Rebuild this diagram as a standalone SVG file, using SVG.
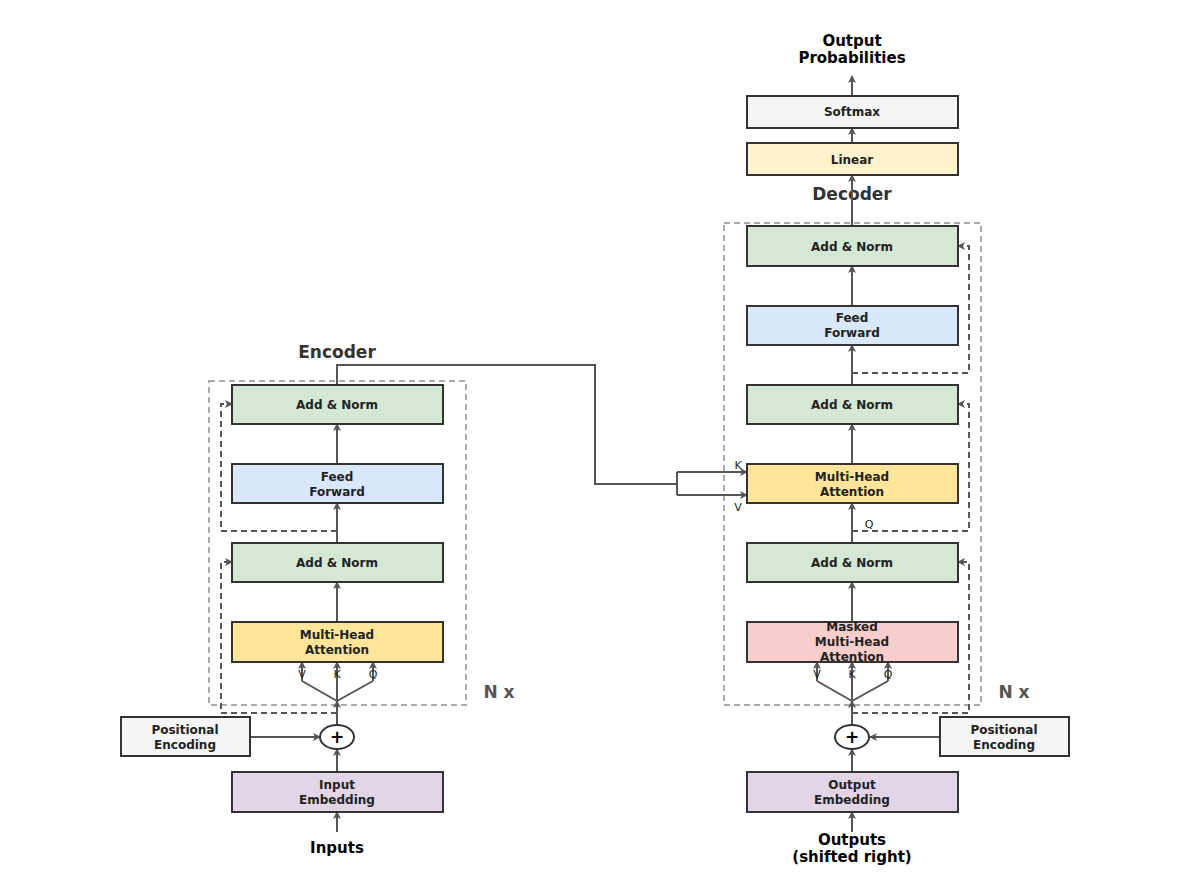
<svg xmlns="http://www.w3.org/2000/svg" width="1189" height="889" viewBox="0 0 1189 889">
<style>
.b{stroke:#333;stroke-width:2}
.t{font-family:"DejaVu Sans",sans-serif;font-size:12px;font-weight:bold;fill:#222;text-anchor:middle}
.s{font-family:"DejaVu Sans",sans-serif;font-size:11px;fill:#222;text-anchor:middle}
.h{font-family:"DejaVu Sans",sans-serif;font-size:17px;font-weight:bold;fill:#333;text-anchor:middle}
.l{font-family:"DejaVu Sans",sans-serif;font-size:15px;font-weight:bold;fill:#000;text-anchor:middle}
.c{fill:none;stroke:#555;stroke-width:2}
.d{fill:none;stroke:#555;stroke-width:2;stroke-dasharray:6,4}
.g{fill:none;stroke:#aaa;stroke-width:2;stroke-dasharray:6,4}
.an{fill:#d5e8d4}.ff{fill:#dae8fc}.mh{fill:#ffe599}.em{fill:#e1d5e7}.pe{fill:#f5f5f5}.ms{fill:#f8cecc}.ln{fill:#fff2cc}
</style>
<defs><marker id="a" markerWidth="8" markerHeight="8" refX="7" refY="4" orient="auto" markerUnits="userSpaceOnUse"><path d="M0,0L8,4L0,8L2,4Z" fill="#555"/></marker></defs>
<rect class="g" x="209" y="381" width="257" height="324"/>
<rect class="g" x="724" y="223" width="257" height="482"/>
<text class="h" x="337" y="358">Encoder</text>
<text class="h" x="852" y="200">Decoder</text>
<text class="h" x="499" y="698" fill="#555" style="fill:#555">N x</text>
<text class="h" x="1014" y="698" style="fill:#555">N x</text>
<text class="l" x="852" y="46">Output</text><text class="l" x="852" y="63">Probabilities</text>
<text class="l" x="337" y="853">Inputs</text>
<text class="l" x="852" y="845">Outputs</text><text class="l" x="852" y="862">(shifted right)</text>
<g id="connectors">
<path class="c" marker-end="url(#a)" d="M337,832V812"/>
<path class="c" marker-end="url(#a)" d="M337,772V749"/>
<path class="c" marker-end="url(#a)" d="M250,737H320"/>
<path class="c" marker-end="url(#a)" d="M337,725V701"/>
<path class="c" d="M337,701L302,681M337,701V681M337,701L373,681"/>
<path class="c" marker-end="url(#a)" d="M302,681V662"/>
<path class="c" marker-end="url(#a)" d="M337,681V662"/>
<path class="c" marker-end="url(#a)" d="M373,681V662"/>
<path class="c" marker-end="url(#a)" d="M337,622V582"/>
<path class="c" marker-end="url(#a)" d="M337,543V503"/>
<path class="c" marker-end="url(#a)" d="M337,464V424"/>
<path class="d" marker-end="url(#a)" d="M337,713H221V562H232"/>
<path class="d" marker-end="url(#a)" d="M337,531H221V404H232"/>
<path class="c" d="M337,385V365H595V484H677"/>
<path class="c" marker-end="url(#a)" d="M677,472H747"/>
<path class="c" marker-end="url(#a)" d="M677,495H747"/>
<path class="c" d="M677,472V495"/>
<path class="c" marker-end="url(#a)" d="M852,832V812"/>
<path class="c" marker-end="url(#a)" d="M852,772V749"/>
<path class="c" marker-end="url(#a)" d="M940,737H870"/>
<path class="c" marker-end="url(#a)" d="M852,725V701"/>
<path class="c" d="M852,701L817,681M852,701V681M852,701L888,681"/>
<path class="c" marker-end="url(#a)" d="M817,681V662"/>
<path class="c" marker-end="url(#a)" d="M852,681V662"/>
<path class="c" marker-end="url(#a)" d="M888,681V662"/>
<path class="c" marker-end="url(#a)" d="M852,622V582"/>
<path class="c" marker-end="url(#a)" d="M852,543V503"/>
<path class="c" marker-end="url(#a)" d="M852,464V424"/>
<path class="c" marker-end="url(#a)" d="M852,385V345"/>
<path class="c" marker-end="url(#a)" d="M852,306V266"/>
<path class="c" marker-end="url(#a)" d="M852,226V175"/>
<path class="c" marker-end="url(#a)" d="M852,143V128"/>
<path class="c" marker-end="url(#a)" d="M852,96V76"/>
<path class="d" marker-end="url(#a)" d="M852,713H969V562H958"/>
<path class="d" marker-end="url(#a)" d="M852,531H969V404H958"/>
<path class="d" marker-end="url(#a)" d="M852,373H969V246H958"/>
<text class="s" x="302" y="678">V</text><text class="s" x="337" y="678">K</text><text class="s" x="373" y="678">Q</text>
<text class="s" x="817" y="678">V</text><text class="s" x="852" y="678">K</text><text class="s" x="888" y="678">Q</text>
<text class="s" x="738" y="469">K</text><text class="s" x="738" y="511">V</text><text class="s" x="869" y="528">Q</text>
</g>
<g id="enc_an2"><rect class="b an" x="232" y="385" width="211" height="39"/><text class="t" x="337" y="409">Add &amp; Norm</text></g>
<g id="enc_ff"><rect class="b ff" x="232" y="464" width="211" height="39"/><text class="t" x="337" y="481">Feed</text><text class="t" x="337" y="496">Forward</text></g>
<g id="enc_an1"><rect class="b an" x="232" y="543" width="211" height="39"/><text class="t" x="337" y="567">Add &amp; Norm</text></g>
<g id="enc_mha"><rect class="b mh" x="232" y="622" width="211" height="40"/><text class="t" x="337" y="639">Multi-Head</text><text class="t" x="337" y="654">Attention</text></g>
<g id="enc_plus"><ellipse cx="337" cy="737" rx="17" ry="12" fill="#fff" stroke="#333" stroke-width="2"/><text x="337" y="743" text-anchor="middle" style="font-family:'DejaVu Sans',sans-serif;font-size:17px;font-weight:bold">+</text></g>
<g id="enc_pe"><rect class="b pe" x="121" y="717" width="129" height="39"/><text class="t" x="185" y="734">Positional</text><text class="t" x="185" y="749">Encoding</text></g>
<g id="enc_emb"><rect class="b em" x="232" y="772" width="211" height="40"/><text class="t" x="337" y="789">Input</text><text class="t" x="337" y="804">Embedding</text></g>
<g id="softmax"><rect class="b pe" x="747" y="96" width="211" height="32"/><text class="t" x="852" y="116">Softmax</text></g>
<g id="linear"><rect class="b ln" x="747" y="143" width="211" height="32"/><text class="t" x="852" y="164">Linear</text></g>
<g id="dec_an3"><rect class="b an" x="747" y="226" width="211" height="40"/><text class="t" x="852" y="251">Add &amp; Norm</text></g>
<g id="dec_ff"><rect class="b ff" x="747" y="306" width="211" height="39"/><text class="t" x="852" y="322">Feed</text><text class="t" x="852" y="337">Forward</text></g>
<g id="dec_an2"><rect class="b an" x="747" y="385" width="211" height="39"/><text class="t" x="852" y="409">Add &amp; Norm</text></g>
<g id="dec_mha"><rect class="b mh" x="747" y="464" width="211" height="39"/><text class="t" x="852" y="481">Multi-Head</text><text class="t" x="852" y="496">Attention</text></g>
<g id="dec_an1"><rect class="b an" x="747" y="543" width="211" height="39"/><text class="t" x="852" y="567">Add &amp; Norm</text></g>
<g id="dec_masked"><rect class="b ms" x="747" y="622" width="211" height="40"/><text class="t" x="852" y="631">Masked</text><text class="t" x="852" y="646">Multi-Head</text><text class="t" x="852" y="661">Attention</text></g>
<g id="dec_plus"><ellipse cx="852" cy="737" rx="17" ry="12" fill="#fff" stroke="#333" stroke-width="2"/><text x="852" y="743" text-anchor="middle" style="font-family:'DejaVu Sans',sans-serif;font-size:17px;font-weight:bold">+</text></g>
<g id="dec_pe"><rect class="b pe" x="940" y="717" width="129" height="39"/><text class="t" x="1004" y="734">Positional</text><text class="t" x="1004" y="749">Encoding</text></g>
<g id="dec_emb"><rect class="b em" x="747" y="772" width="211" height="40"/><text class="t" x="852" y="789">Output</text><text class="t" x="852" y="804">Embedding</text></g>
</svg>
